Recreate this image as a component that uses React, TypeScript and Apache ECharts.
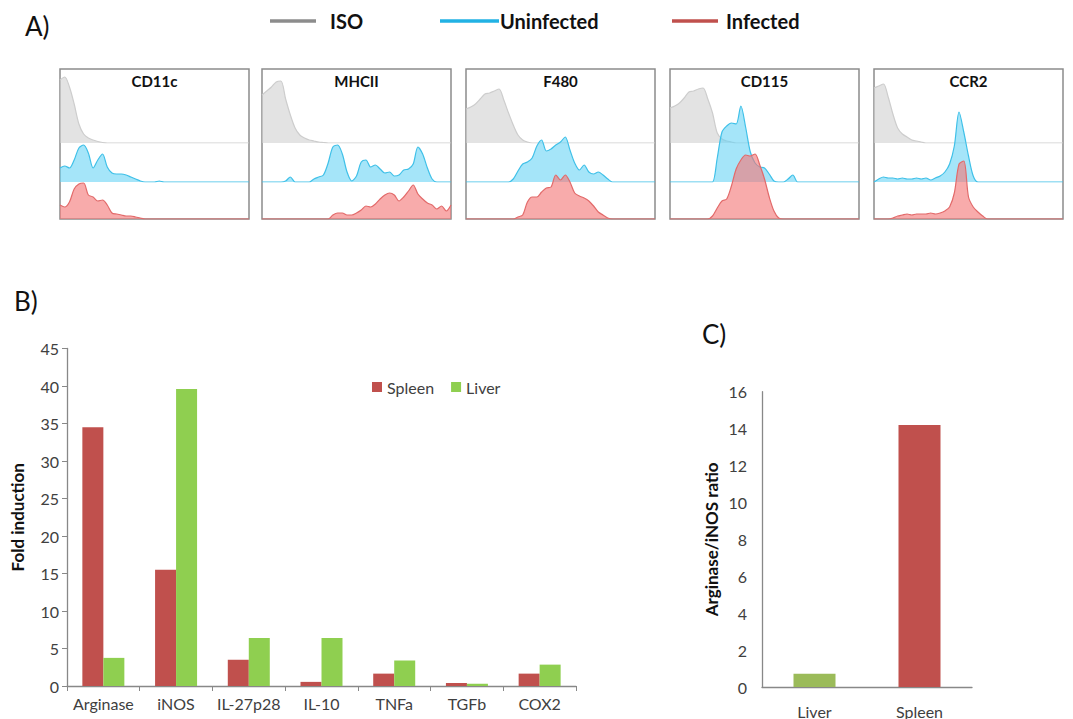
import React, { useEffect, useRef } from "react";
import * as echarts from "echarts";

// ---------- Panel A: flow cytometry histograms (event counts per fluorescence bin) ----------
const MARKERS = ["CD11c", "MHCII", "F480", "CD115", "CCR2"];
const CONDITIONS = ["ISO", "Uninfected", "Infected"];

const ISO_CD11C = [63,66,56,39,19,9,5,3,1.5,0.5,0,0,0,0,0,0,0,0,0,0,0,0,0,0,0,0,0,0,0,0,0,0,0,0,0,0,0,0,0,0,0];
const UNINF_CD11C = [14,16,14,22,34,37,29,14,22,28,15,9,8,8,7,5,3,1,0,0,0,1,0,0,0,0,0,0,0,0,0,0,0,0,0,0,0,0,0,0,0];
const INF_CD11C = [14,12,17,30,35,36,24,22,18,19,14,6,5,4,3,3,2,1,0,0,0,0,0,0,0,0,0,0,0,0,0,0,0,0,0,0,0,0,0,0,0];

const ISO_MHCII = [48,52,56,61,62,44,28,15,8,5,3,2,1,0.5,0,0,0,0,0,0,0,0,0,0,0,0,0,0,0,0,0,0,0,0,0,0,0,0,0,0,0];
const UNINF_MHCII = [0,0,0,0,0,1,5,0,0,0,0,3,5,7,19,35,37,28,10,1,6,20,22,15,17,13,9,10,6,7,12,13,18,35,28,14,3,0,0,0,0];
const INF_MHCII = [0,0,0,0,0,0,0,0,0,0,0,0,0,0,0,4,6,6,4,4,6,9,13,12,15,20,24,26,24,18,22,28,34,25,20,16,14,10,13,8,14];

const ISO_F480 = [34,36,39,44,49,50,52,54,43,30,18,8,3,1,0,0,0,0,0,0,0,0,0,0,0,0,0,0,0,0,0,0,0,0,0,0,0,0,0,0,0];
const UNINF_F480 = [0,0,0,0,0,0,0,0,0,0,3,11,18,20,24,36,42,31,33,37,40,45,32,19,12,17,10,8,10,7,3,0,0,0,0,0,0,0,0,0,0];
const INF_F480 = [0,0,0,0,0,0,0,0,0,0,0,2,4,17,22,22,27,31,32,44,39,44,37,26,23,21,18,13,7,4,1,0,0,0,0,0,0,0,0,0,0];

const ISO_CD115 = [35,37,40,45,51,52,54,55,44,30,10,4,2,1,0,0,0,0,0,0,0,0,0,0,0,0,0,0,0,0,0,0,0,0,0,0,0,0,0,0,0];
const UNINF_CD115 = [0,0,0,0,0,0,0,0,0,0,24,50,56,59,58,76,55,30,19,15,14,8,1,0,0,3,7,0,0,0,0,0,0,0,0,0,0,0,0,0,0];
const INF_CD115 = [0,0,0,0,0,0,0,0,0,3,11,18,20,33,50,59,64,63,65,54,40,22,8,1,0,0,0,0,0,0,0,0,0,0,0,0,0,0,0,0,0];

const ISO_CCR2 = [55,57,59,46,29,15,9,6,3,2,1,0,0,0,0,0,0,0,0,0,0,0,0,0,0,0,0,0,0,0,0,0,0,0,0,0,0,0,0,0,0];
const UNINF_CCR2 = [0,3,5,4,4,3,4,3,3,4,3,4,2,4,6,10,18,36,70,50,26,6,0,0,0,0,0,0,0,0,0,0,0,0,0,0,0,0,0,0,0];
const INF_CCR2 = [0,0,0,0,1,3,4,5,4,5,5,5,6,5,6,8,12,26,55,58,22,12,7,3,0,0,0,0,0,0,0,0,0,0,0,0,0,0,0,0,0];

const HISTOGRAMS = [
  [ISO_CD11C, UNINF_CD11C, INF_CD11C],
  [ISO_MHCII, UNINF_MHCII, INF_MHCII],
  [ISO_F480, UNINF_F480, INF_F480],
  [ISO_CD115, UNINF_CD115, INF_CD115],
  [ISO_CCR2, UNINF_CCR2, INF_CCR2],
];

// ---------- Panel B: fold induction ----------
const CYTOKINES = ["Arginase", "iNOS", "IL-27p28", "IL-10", "TNFa", "TGFb", "COX2"];
const SPLEEN_FOLD = [34.5, 15.5, 3.5, 0.55, 1.65, 0.4, 1.65];
const LIVER_FOLD = [3.75, 39.6, 6.4, 6.4, 3.4, 0.3, 2.85];

// ---------- Panel C: Arginase / iNOS ratio ----------
const ORGANS = ["Liver", "Spleen"];
const RATIO = [0.72, 14.2];

// ---------- layout & style ----------
const FONT = "Lato, 'Open Sans', sans-serif";
const BOX_LEFTS = [60, 262, 466, 670, 874];
const BOX_W = 189;
const BOX_TOP = 69;
const BASELINES = [143, 182, 219];
const LAYER_STYLE = [
  { line: "#cdcdcd", area: "rgba(208,208,208,0.6)" },
  { line: "#3fc0e8", area: "rgba(100,210,244,0.58)" },
  { line: "#e26a6a", area: "rgba(244,120,120,0.62)" },
];
const LEGEND_COLORS = ["#8c8c8c", "#22b2e4", "#c0504d"];
const SPLEEN_COLOR = "#c0504d";
const LIVER_COLOR = "#8fcf50";
const LIVER_C_COLOR = "#9bbb59";
const AXIS_COLOR = "#888888";
const LABEL_COLOR = "#404040";

export default function App() {
  const ref = useRef<HTMLDivElement>(null);
  useEffect(() => {
    document.body.style.margin = "0";
    const chart = echarts.init(ref.current!, null, { renderer: "svg" });

    const grids: any[] = [];
    const xAxes: any[] = [];
    const yAxes: any[] = [];
    const series: any[] = [];
    const titles: any[] = [];
    const bins = HISTOGRAMS[0][0].map((_, i) => String(i));

    HISTOGRAMS.forEach((layers, b) => {
      layers.forEach((data, l) => {
        const gi = grids.length;
        const h = BASELINES[l] - BOX_TOP;
        grids.push({
          left: BOX_LEFTS[b], top: BOX_TOP, width: BOX_W, height: h,
          show: l === 2, borderColor: "#8c8c8c", borderWidth: 1.5, backgroundColor: "transparent",
        });
        xAxes.push({ gridIndex: gi, type: "category", data: bins, boundaryGap: false, show: false });
        yAxes.push({ gridIndex: gi, type: "value", min: 0, max: h, show: false });
        series.push({
          type: "line", name: CONDITIONS[l], xAxisIndex: gi, yAxisIndex: gi, data,
          smooth: 0.3, symbol: "none", silent: true, z: 2 + l,
          lineStyle: { color: LAYER_STYLE[l].line, width: 1.2 },
          itemStyle: { color: LAYER_STYLE[l].line },
          areaStyle: { color: LAYER_STYLE[l].area, opacity: 1 },
        });
      });
      titles.push({
        text: MARKERS[b], left: BOX_LEFTS[b] + BOX_W / 2, top: 73, padding: 0, textAlign: "center",
        textStyle: { fontSize: 15, fontWeight: "bold", color: "#111", fontFamily: FONT },
      });
    });

    titles.push({ text: "A)", left: 20, top: 8, textStyle: { fontSize: 26, fontWeight: "normal", color: "#111", fontFamily: FONT } });
    titles.push({ text: "B)", left: 9, top: 283, textStyle: { fontSize: 26, fontWeight: "normal", color: "#111", fontFamily: FONT } });
    titles.push({ text: "C)", left: 697, top: 316, textStyle: { fontSize: 26, fontWeight: "normal", color: "#111", fontFamily: FONT } });

    // Panel B
    const gB = grids.length;
    grids.push({ left: 67, top: 348.5, width: 509, height: 337.5 });
    xAxes.push({
      gridIndex: gB, type: "category", data: CYTOKINES,
      axisLine: { lineStyle: { color: AXIS_COLOR, width: 1.3 } },
      axisTick: { show: true, length: 5, lineStyle: { color: AXIS_COLOR } },
      axisLabel: { fontSize: 16, color: LABEL_COLOR, margin: 9, interval: 0, fontFamily: FONT },
    });
    yAxes.push({
      gridIndex: gB, type: "value", min: 0, max: 45, interval: 5,
      axisLine: { show: true, lineStyle: { color: AXIS_COLOR, width: 1.3 } },
      axisTick: { show: true, length: 5, lineStyle: { color: AXIS_COLOR } },
      splitLine: { show: false },
      axisLabel: { fontSize: 16, color: LABEL_COLOR, margin: 8, fontFamily: FONT },
      name: "Fold induction", nameLocation: "middle", nameGap: 41,
      nameTextStyle: { fontSize: 17, fontWeight: "bold", color: "#111", fontFamily: FONT },
    });
    series.push({
      type: "bar", name: "Spleen", xAxisIndex: gB, yAxisIndex: gB, data: SPLEEN_FOLD,
      barWidth: 21, barGap: "0%", itemStyle: { color: SPLEEN_COLOR },
    });
    series.push({
      type: "bar", name: "Liver", xAxisIndex: gB, yAxisIndex: gB, data: LIVER_FOLD,
      barWidth: 21, barGap: "0%", itemStyle: { color: LIVER_COLOR },
    });

    // Panel C
    const gC = grids.length;
    grids.push({ left: 762, top: 391.7, width: 210, height: 296.6 });
    xAxes.push({
      gridIndex: gC, type: "category", data: ORGANS,
      axisLine: { lineStyle: { color: AXIS_COLOR, width: 1.3 } },
      axisTick: { show: false },
      axisLabel: { fontSize: 16, color: LABEL_COLOR, margin: 16, fontFamily: FONT },
    });
    yAxes.push({
      gridIndex: gC, type: "value", min: 0, max: 16, interval: 2,
      axisLine: { show: true, lineStyle: { color: AXIS_COLOR, width: 1.3 } },
      axisTick: { show: false },
      splitLine: { show: false },
      axisLabel: { fontSize: 16, color: LABEL_COLOR, margin: 15, fontFamily: FONT },
      name: "Arginase/iNOS ratio", nameLocation: "middle", nameGap: 42,
      nameTextStyle: { fontSize: 17, fontWeight: "bold", color: "#111", fontFamily: FONT },
    });
    series.push({
      type: "bar", name: "Arginase/iNOS ratio", xAxisIndex: gC, yAxisIndex: gC,
      data: RATIO.map((v, i) => ({ value: v, itemStyle: { color: i === 0 ? LIVER_C_COLOR : SPLEEN_COLOR } })),
      barWidth: 42,
    });

    // Legend A (line swatches + bold labels)
    const legendA = [
      { x1: 270, x2: 316, tx: 330 },
      { x1: 440, x2: 499, tx: 500 },
      { x1: 672, x2: 718, tx: 726 },
    ];
    const graphic: any[] = [];
    CONDITIONS.forEach((name, i) => {
      graphic.push({
        type: "line", shape: { x1: legendA[i].x1, y1: 21, x2: legendA[i].x2, y2: 21 },
        style: { stroke: LEGEND_COLORS[i], lineWidth: 3.5 },
      });
      graphic.push({
        type: "text", x: legendA[i].tx, y: 21,
        style: { text: name, fontSize: 20, fontWeight: "bold", fontFamily: FONT, fill: "#111", verticalAlign: "middle" },
      });
    });

    chart.setOption({
      animation: false,
      textStyle: { fontFamily: FONT },
      title: titles,
      grid: grids,
      xAxis: xAxes,
      yAxis: yAxes,
      series,
      graphic,
      legend: {
        data: ["Spleen", "Liver"], left: 372, top: 379, icon: "rect",
        itemWidth: 10, itemHeight: 10, itemGap: 17, padding: 0,
        textStyle: { fontSize: 16, color: LABEL_COLOR, fontFamily: FONT },
      },
    });
    return () => chart.dispose();
  }, []);
  return <div ref={ref} style={{ position: "absolute", left: 0, top: 0, width: 1073, height: 719 }} />;
}
